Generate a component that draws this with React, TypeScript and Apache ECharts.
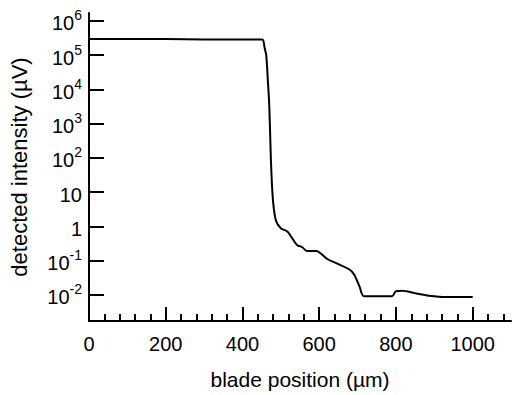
import React, { useEffect, useRef } from "react";
import * as echarts from "echarts";

// blade position (µm)
const positions: number[] = [
  0, 100, 200, 300, 400, 452, 455, 458, 462, 466, 470, 474, 478, 482, 488, 500,
  517, 530, 543, 555, 569, 592, 621, 650, 678, 691, 705, 717, 790, 800, 816,
  850, 886, 930, 1000,
];
// detected intensity exponent (log10 of µV)
const logIntensity: number[] = [
  5.47, 5.47, 5.47, 5.46, 5.46, 5.46, 5.4, 5.2, 5.0, 4.3, 3.5, 2.0, 1.0, 0.5,
  0.15, -0.05, -0.15, -0.35, -0.55, -0.6, -0.72, -0.72, -0.95, -1.1, -1.25,
  -1.4, -1.75, -2.04, -2.04, -1.89, -1.88, -1.95, -2.02, -2.06, -2.06,
];
const intensities: number[] = logIntensity.map((e) => Math.pow(10, e));

const yDecades: number[] = [-2, -1, 0, 1, 2, 3, 4, 5, 6];
const xMajorTicks: number[] = [0, 200, 400, 600, 800, 1000];
const xMinorTicks: number[] = [
  40, 80, 120, 160, 240, 280, 320, 360, 440, 480, 520, 560, 640, 680, 720, 760,
  840, 880, 920, 960, 1040, 1080,
];

const FONT = "'Liberation Sans', Arial, Helvetica, sans-serif";

export default function App() {
  const ref = useRef<HTMLDivElement>(null);
  useEffect(() => {
    document.body.style.margin = "0";
    if (!ref.current) return;
    const chart = echarts.init(ref.current, undefined, { renderer: "svg" });
    const data = positions.map((x, i) => [x, Math.log10(intensities[i])]);
    chart.setOption({
      animation: false,
      backgroundColor: "#ffffff",
      grid: { left: 89, right: 1, top: 13, bottom: 73, containLabel: false },
      xAxis: [
        {
          type: "value",
          position: "bottom",
          min: 0,
          max: 1100,
          splitLine: { show: false },
          axisLine: { show: true, onZero: false, lineStyle: { color: "#000", width: 2 } },
          axisTick: {
            show: true,
            inside: true,
            length: 14,
            customValues: xMajorTicks,
            lineStyle: { color: "#000", width: 2 },
          },
          axisLabel: {
            customValues: xMajorTicks,
            formatter: (v: number) => String(v),
            color: "#000",
            fontSize: 20,
            fontFamily: FONT,
            margin: 13,
          },
          name: "blade position (µm)",
          nameLocation: "middle",
          nameGap: 48,
          nameTextStyle: { color: "#000", fontSize: 21, fontFamily: FONT },
        },
        {
          type: "value",
          position: "bottom",
          min: 0,
          max: 1100,
          splitLine: { show: false },
          axisLine: { show: false, onZero: false },
          axisTick: {
            show: true,
            inside: true,
            length: 7,
            customValues: xMinorTicks,
            lineStyle: { color: "#000", width: 2 },
          },
          axisLabel: { show: false },
        },
      ],
      yAxis: {
        type: "value",
        min: -2.76,
        max: 6.23,
        splitLine: { show: false },
        axisLine: { show: true, onZero: false, lineStyle: { color: "#000", width: 2 } },
        axisTick: {
          show: true,
          inside: true,
          length: 15,
          customValues: yDecades,
          lineStyle: { color: "#000", width: 2 },
        },
        axisLabel: {
          customValues: yDecades,
          margin: 7,
          color: "#000",
          fontSize: 20,
          fontFamily: FONT,
          formatter: (v: number) => {
            if (v === 0) return "{b|1}";
            if (v === 1) return "{b|10}";
            return `{b|10}{s|${v}}`;
          },
          rich: {
            b: { fontSize: 20, fontFamily: FONT, color: "#000", lineHeight: 25, verticalAlign: "bottom" },
            s: { fontSize: 14, fontFamily: FONT, color: "#000", lineHeight: 25, verticalAlign: "top" },
          },
        },
        name: "detected intensity (µV)",
        nameLocation: "middle",
        nameRotate: 90,
        nameGap: 59,
        nameTextStyle: { color: "#000", fontSize: 22, fontFamily: FONT },
      },
      series: [
        {
          type: "line",
          xAxisIndex: 0,
          data,
          showSymbol: false,
          symbol: "none",
          smooth: 0.3,
          lineStyle: { color: "#000", width: 2 },
        },
      ],
    });
    return () => chart.dispose();
  }, []);
  return <div ref={ref} style={{ width: 512, height: 395 }} />;
}
